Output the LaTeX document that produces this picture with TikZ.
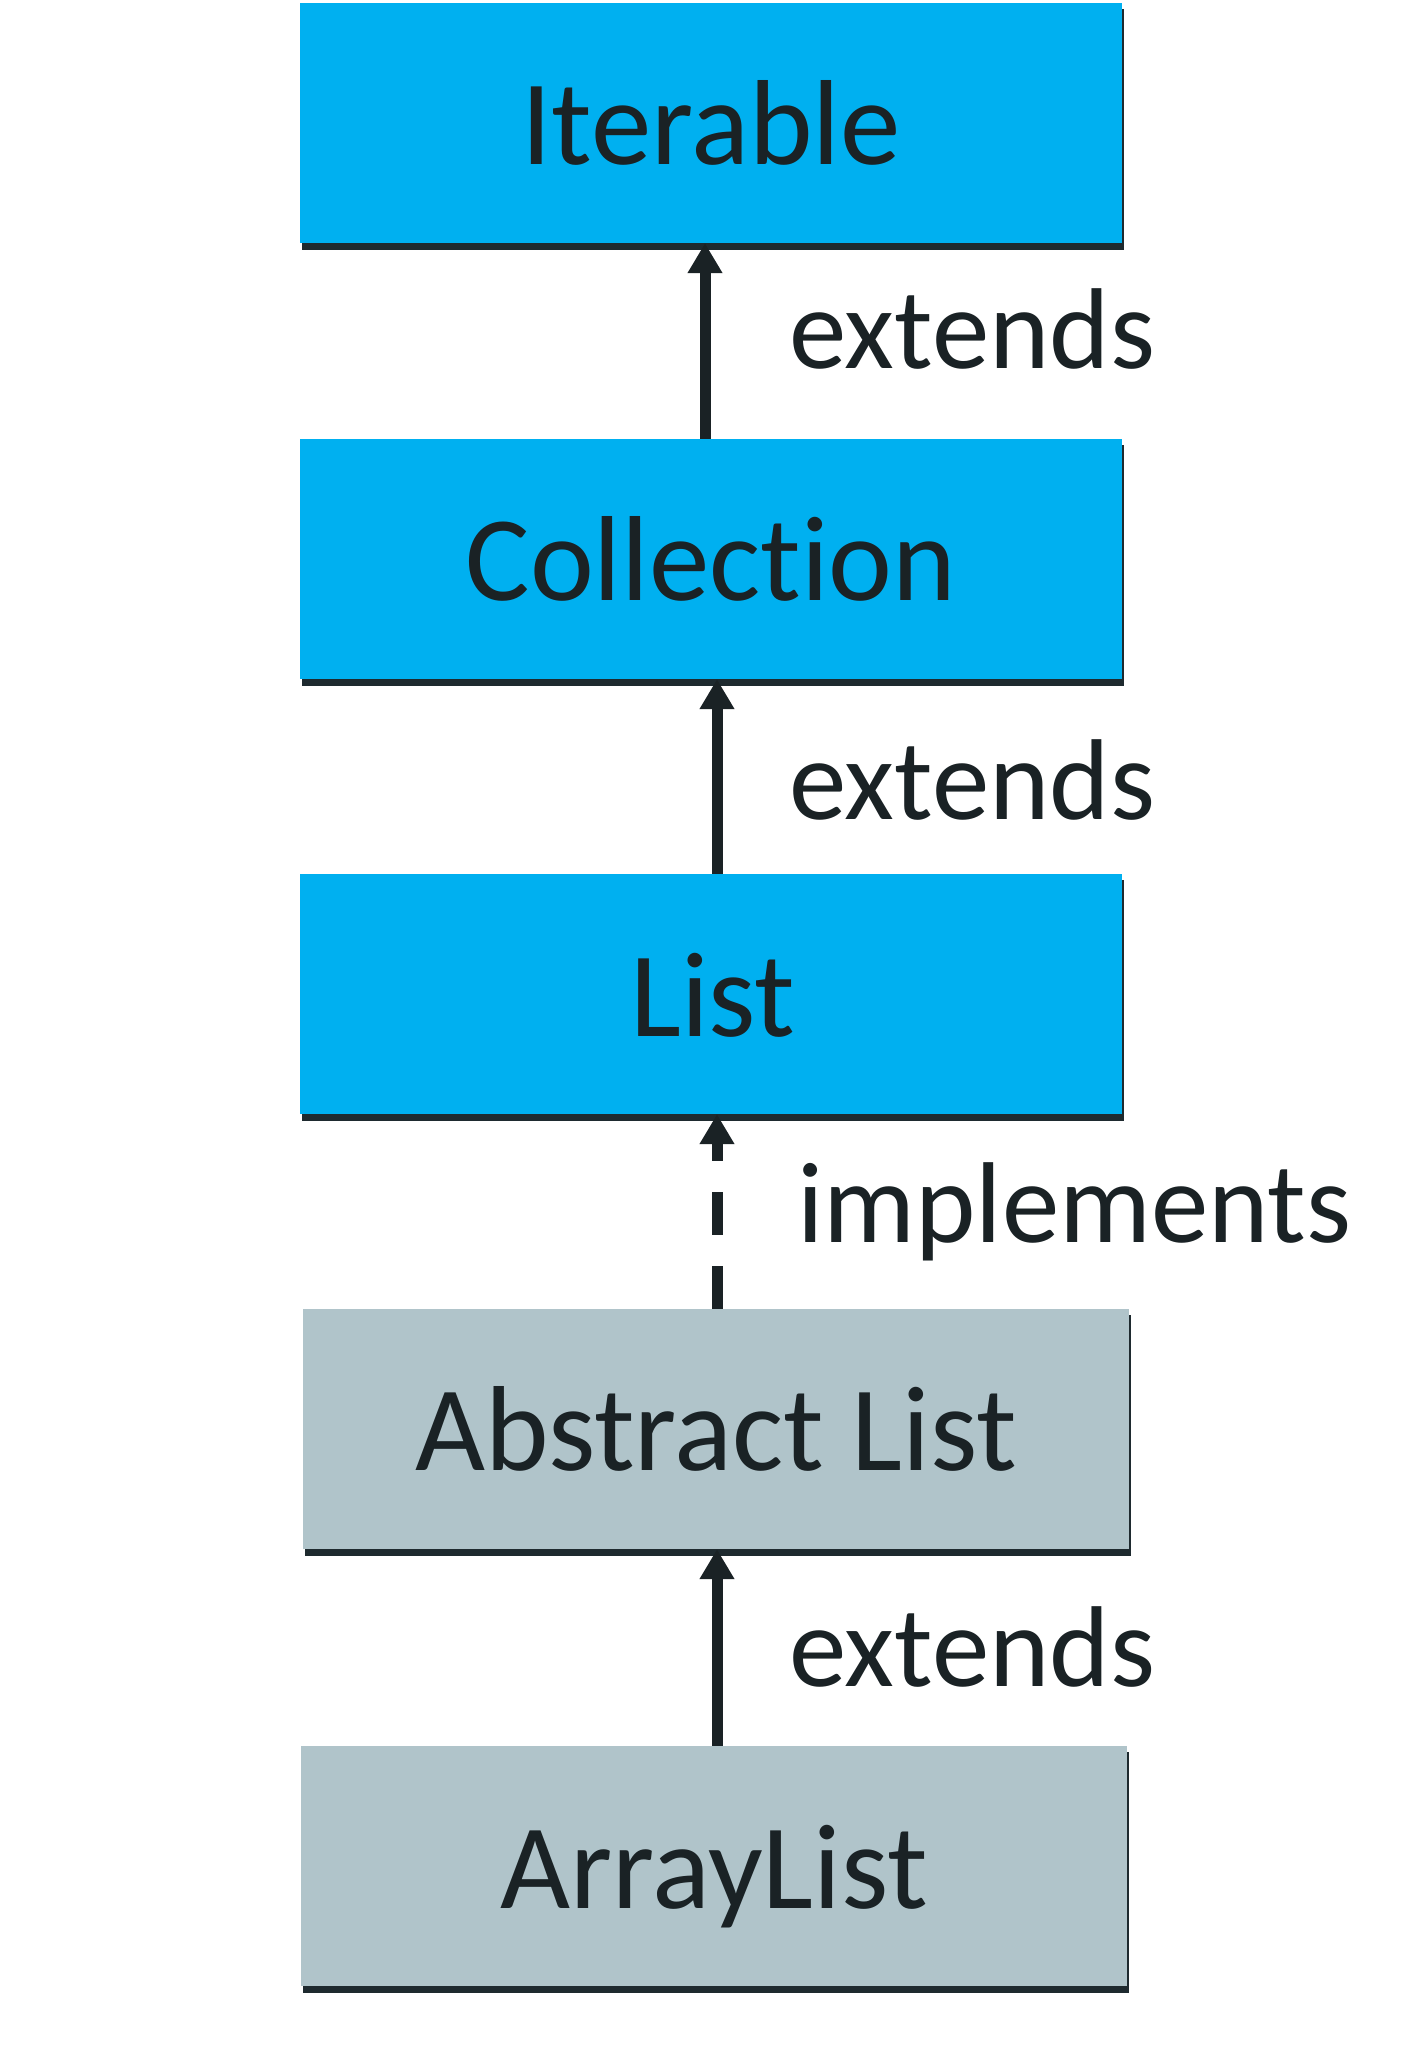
\documentclass[tikz,border=0pt]{standalone}
\usepackage{fontspec}
\setmainfont{Carlito}[RawFeature={-liga;-dlig}]
\usetikzlibrary{arrows.meta}
\definecolor{boxblue}{HTML}{00B0F0}
\definecolor{boxgray}{HTML}{B0C4CA}
\definecolor{inkdark}{HTML}{1A2225}
\definecolor{shadowdark}{HTML}{1E2A2F}
\tikzset{
  boxshape/.style={rectangle, inner sep=0pt, draw=none, minimum width=#1},
  shadowshape/.style={rectangle, inner sep=0pt, draw=none, fill=shadowdark, minimum width=#1},
  boxtext/.style={inner sep=0pt, anchor=base, text=inkdark, font=\fontsize{121}{125}\selectfont},
  reltext/.style={inner sep=0pt, anchor=base west, text=inkdark, font=\fontsize{115}{120}\selectfont},
  relarrow/.style={draw=inkdark, line width=11pt, -{Triangle[length=30pt,width=33pt]}},
}
\begin{document}
\begin{tikzpicture}[x=1pt,y=-1pt]
\useasboundingbox (0,0) rectangle (1416,2048);
\fill[white] (0,0) rectangle (1416,2048);
% shadows
\node[shadowshape=822pt, minimum height=241pt] (iterS) at (713,129) {};
\node[shadowshape=822pt, minimum height=241pt] (collS) at (713,565) {};
\node[shadowshape=822pt, minimum height=241pt] (listS) at (713,1000) {};
\node[shadowshape=826pt, minimum height=241pt] (absS) at (718,1435) {};
\node[shadowshape=826pt, minimum height=241pt] (arrS) at (716,1872) {};
% boxes
\node[boxshape=822pt, minimum height=240pt, fill=boxblue] (iter) at (711,123) {};
\node[boxshape=822pt, minimum height=240pt, fill=boxblue] (coll) at (711,559) {};
\node[boxshape=822pt, minimum height=240pt, fill=boxblue] (list) at (711,994) {};
\node[boxshape=826pt, minimum height=240pt, fill=boxgray] (abs) at (716,1429) {};
\node[boxshape=826pt, minimum height=240pt, fill=boxgray] (arr) at (714,1866) {};
% box texts
\node[boxtext] (iterT) at (711,164) {Iterable};
\node[boxtext] (collT) at (711,600) {Collection};
\node[boxtext] (listT) at (713,1036) {List};
\node[boxtext] (absT) at (716,1470) {Abstract List};
\node[boxtext] (arrT) at (714,1908) {ArrayList};
% connectors
\coordinate (a1) at (705,0);
\coordinate (a2) at (717,0);
\draw[relarrow] (coll.north -| a1) -- (iter.south -| a1);
\draw[relarrow] (list.north -| a2) -- (coll.south -| a2);
\draw[relarrow, dash pattern=on 43pt off 31pt] (abs.north -| a2) -- (list.south -| a2);
\draw[relarrow] (arr.north -| a2) -- (abs.south -| a2);
% labels
\node[reltext] (l1) at (789,368) {extends};
\node[reltext] (l2) at (789,819) {extends};
\node[reltext] (l3) at (797,1242) {implements};
\node[reltext] (l4) at (789,1686) {extends};
\end{tikzpicture}
\end{document}
